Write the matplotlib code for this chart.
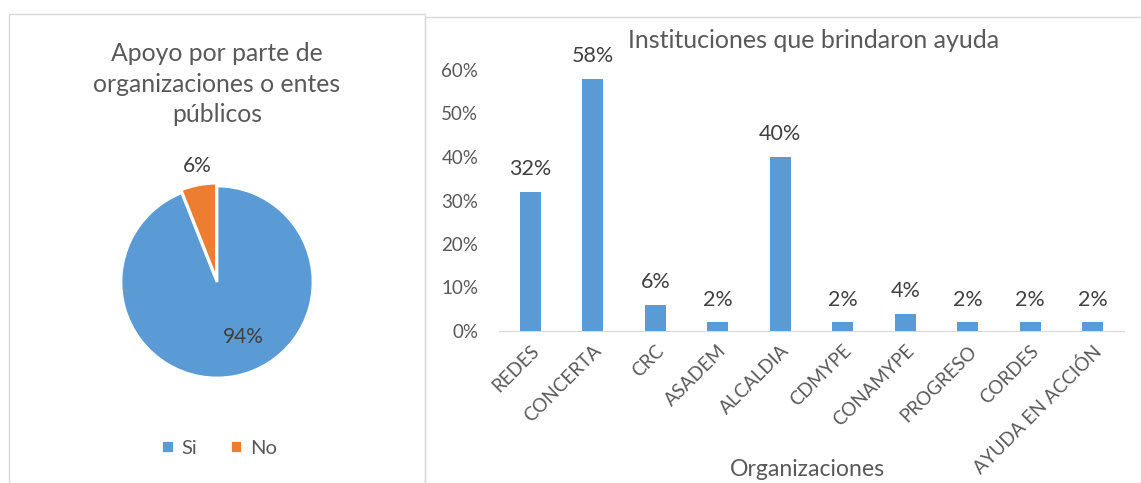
import matplotlib.pyplot as plt
from matplotlib.patches import Rectangle
from matplotlib.ticker import PercentFormatter

plt.rcParams['font.family'] = ['Lato', 'DejaVu Sans']

# datos
pie_labels = ["Si", "No"]
pie_values = [0.94, 0.06]

orgs = ["REDES", "CONCERTA", "CRC", "ASADEM", "ALCALDIA", "CDMYPE",
        "CONAMYPE", "PROGRESO", "CORDES", "AYUDA EN ACCIÓN"]
org_values = [0.32, 0.58, 0.06, 0.02, 0.40, 0.02, 0.04, 0.02, 0.02, 0.02]

BLUE = "#5B9BD5"
ORANGE = "#ED7D31"
TXT = "#595959"
LBL = "#404040"
W, H = 1141, 483

fig = plt.figure(figsize=(W / 100, H / 100), dpi=100)
fig.patch.set_facecolor("white")

# marcos de los dos graficos
fig.add_artist(Rectangle((9 / W, 0), (425 - 9) / W, (H - 14) / H, transform=fig.transFigure,
                         fill=False, edgecolor="#D9D9D9", lw=1))
fig.add_artist(Rectangle((425 / W, 0), (W - 425) / W, (H - 17) / H, transform=fig.transFigure,
                         fill=False, edgecolor="#D9D9D9", lw=1))

# --- pastel ---
axp = fig.add_axes([121 / W, 1 - 378 / H, 192 / W, 192 / H])
wedges, _ = axp.pie(pie_values, colors=[BLUE, ORANGE], startangle=90, counterclock=False,
                    explode=[0, 0.03], wedgeprops=dict(edgecolor="white", linewidth=2))
axp.set_xlim(-1.0, 1.0)
axp.set_ylim(-1.0, 1.0)
axp.set_aspect("equal")
axp.text(0.27, -0.57, "94%", ha="center", va="center", fontsize=15, color=LBL)
axp.text(-0.21, 1.21, "6%", ha="center", va="center", fontsize=15, color=LBL)
fig.text(217 / W, 1 - 84 / H, "Apoyo por parte de\norganizaciones o entes\npúblicos",
         ha="center", va="center", fontsize=17.8, color=TXT, linespacing=1.42)
fig.legend(wedges, pie_labels, loc="center", bbox_to_anchor=(219 / W, 1 - 448 / H), ncol=2,
           frameon=False, fontsize=14.5, labelcolor=TXT, handlelength=0.6, handleheight=0.6,
           handletextpad=0.4, columnspacing=1.6)

# --- barras ---
ax = fig.add_axes([499 / W, 1 - 331 / H, (1124 - 499) / W, (331 - 70) / H])
x = range(len(orgs))
bars = ax.bar(x, org_values, width=0.33, color=BLUE)
ax.set_xlim(-0.5, len(orgs) - 0.5)
ax.set_ylim(0, 0.6)
ax.set_yticks([0, 0.1, 0.2, 0.3, 0.4, 0.5, 0.6])
ax.yaxis.set_major_formatter(PercentFormatter(1.0, decimals=0))
ax.set_xticks(list(x))
ax.set_xticklabels(orgs, rotation=45, ha="right", rotation_mode="anchor")
ax.tick_params(axis="both", length=0, labelsize=13.5, colors=TXT)
ax.tick_params(axis="y", pad=15)
ax.tick_params(axis="x", pad=8)
for s in ["top", "right", "left"]:
    ax.spines[s].set_visible(False)
ax.spines["bottom"].set_color("#D9D9D9")
for b, v in zip(bars, org_values):
    ax.annotate(f"{v * 100:.0f}%", (b.get_x() + b.get_width() / 2, v), xytext=(0, 9),
                textcoords="offset points", ha="center", va="bottom", fontsize=15.5,
                color=LBL, annotation_clip=False)
fig.text(814 / W, 1 - 40 / H, "Instituciones que brindaron ayuda", ha="center", va="center",
         fontsize=18, color=TXT)
fig.text(807 / W, 1 - 469 / H, "Organizaciones", ha="center", va="center",
         fontsize=16.6, color=TXT)

plt.savefig("out.png", dpi=100)
